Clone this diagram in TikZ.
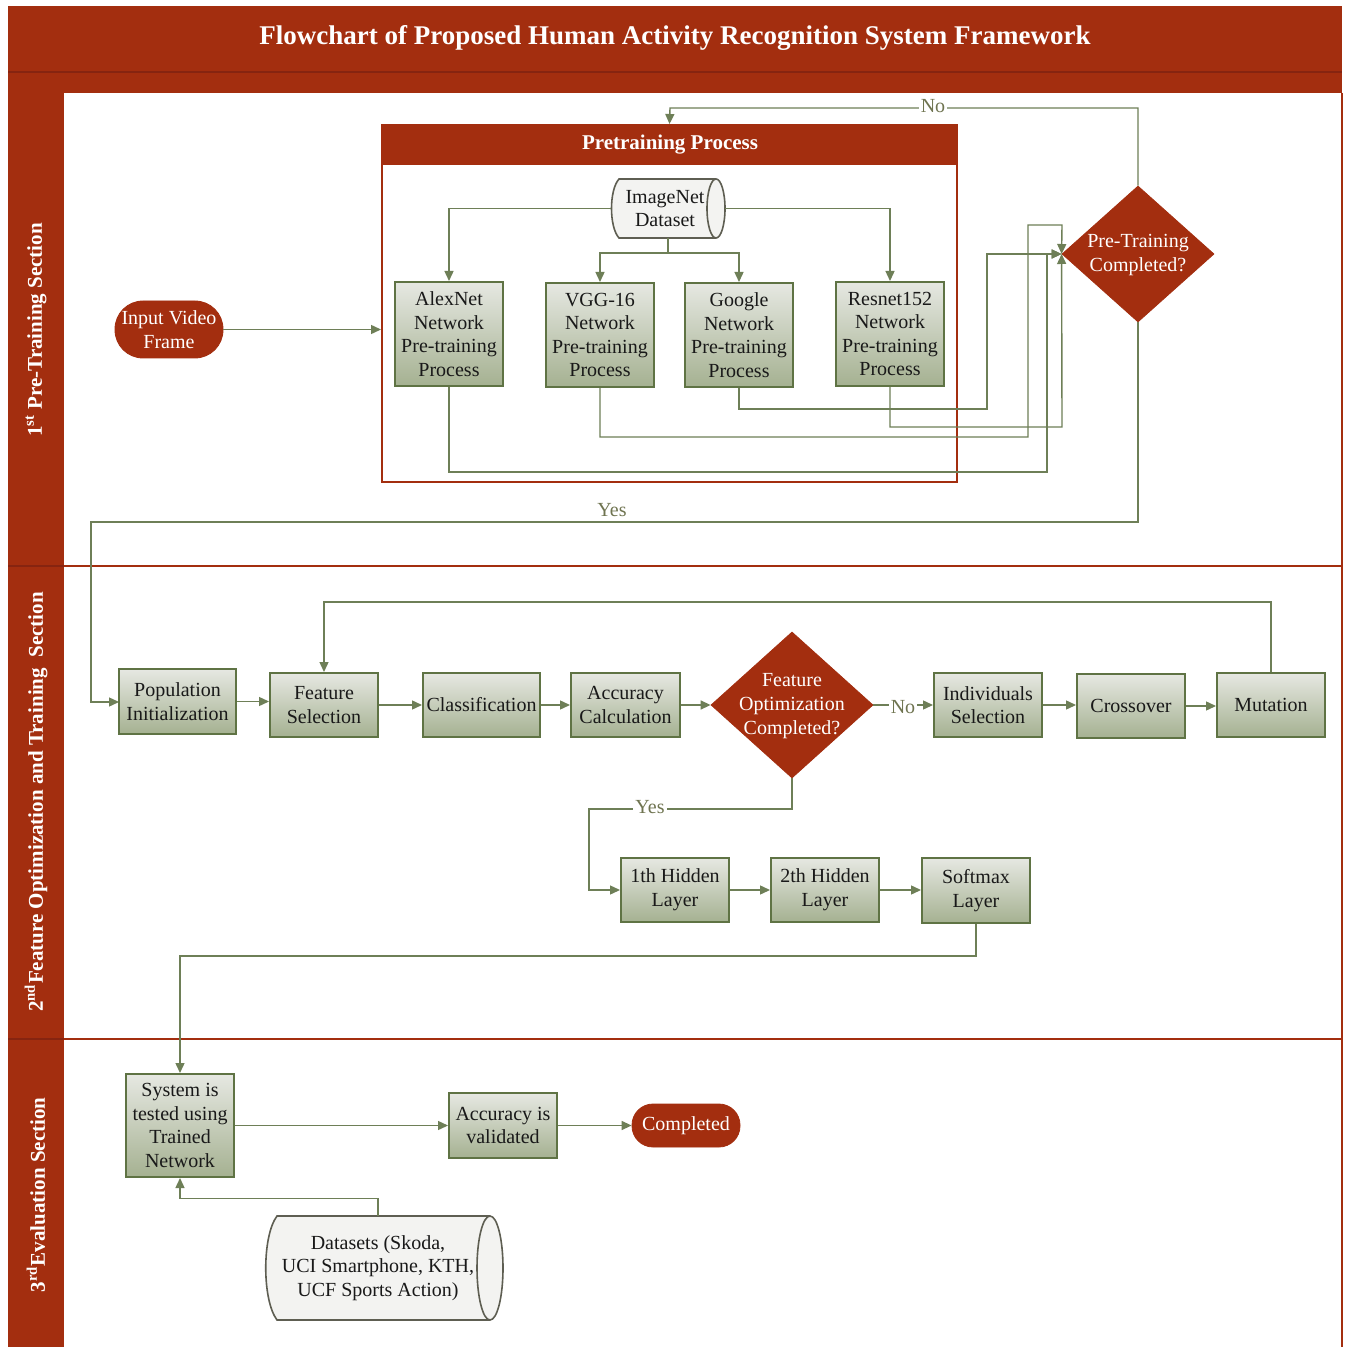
\documentclass[tikz,border=0pt]{standalone}
\usepackage{fontspec}
\setmainfont{Liberation Serif}
\usetikzlibrary{shapes.geometric,arrows.meta,fit,calc}
\definecolor{redc}{HTML}{A32E0F}
\definecolor{darkred}{HTML}{862410}
\definecolor{conn}{HTML}{6E7F57}
\definecolor{boxborder}{HTML}{5F7344}
\definecolor{boxtop}{HTML}{E6E8E2}
\definecolor{boxbot}{HTML}{A5B191}
\definecolor{cylfill}{HTML}{F3F3F1}
\definecolor{cylline}{HTML}{5E5E52}
\definecolor{lblc}{HTML}{6F7450}
\begin{document}
\begin{tikzpicture}[x=0.5pt,y=-0.5pt,
  box/.style={draw=boxborder, line width=1pt, top color=boxtop, bottom color=boxbot,
    inner sep=0pt, align=center, text=black!90, minimum width=54pt, minimum height=32pt,
    font=\fontsize{10pt}{11.8pt}\selectfont},
  tallbox/.style={box, minimum height=52pt},
  plain/.style={inner sep=0pt, align=center, text=black!90,
    font=\fontsize{10pt}{11.8pt}\selectfont},
  term/.style={fill=redc, draw=redc, inner sep=0pt, align=center, text=white,
    font=\fontsize{10pt}{11.8pt}\selectfont},
  decision/.style={diamond, fill=redc, draw=redc, inner sep=0pt, align=center, text=white,
    font=\fontsize{10pt}{11.6pt}\selectfont},
  conn/.style={draw=conn, line width=0.7pt, -{Triangle[length=5pt,width=4.5pt]}},
  lbl/.style={fill=white, inner sep=1pt, text=lblc, font=\fontsize{10pt}{11pt}\selectfont},
  lanelab/.style={rotate=90, text=white, font=\bfseries\fontsize{10.5pt}{12pt}\selectfont},
  cyl/.style={draw=cylline, line width=0.8pt, fill=cylfill}
]
\useasboundingbox (0,0) rectangle (1348,1347);
\fill[white] (0,0) rectangle (1348,1347);

% ---------- frame ----------
\fill[redc] (8,6) rectangle (1342,93);
\draw[darkred, line width=0.6pt] (8,72) -- (1342,72);
\fill[redc] (8,93) rectangle (64,1347);
\draw[redc, line width=1pt] (1342,93) -- (1342,1347);
\draw[redc, line width=1pt] (8,566) -- (1342,566);
\draw[redc, line width=1pt] (8,1039) -- (1342,1039);
\draw[darkred, line width=0.6pt] (8,566) -- (64,566) (8,1039) -- (64,1039);

\node[text=white, font=\bfseries\fontsize{13.5pt}{15pt}\selectfont] (title) at (675,38)
  {Flowchart of Proposed Human Activity Recognition System Framework};

\node[lanelab] (lane1) at (36,330) {1\textsuperscript{st} Pre-Training Section};
\node[lanelab] (lane2) at (36,802) {2\textsuperscript{nd}Feature Optimization and Training\ \ Section};
\node[lanelab] (lane3) at (36,1195) {3\textsuperscript{rd}Evaluation Section};

% ---------- lane 1 ----------
\node[fit={(382,125)(957,482)}, draw=redc, line width=1pt, inner sep=0pt] (pre) {};
\fill[redc] (382,125) rectangle (957,165);
\node[text=white, font=\bfseries\fontsize{10.5pt}{12pt}\selectfont] (pretitle) at (670,145) {Pretraining Process};

% ImageNet cylinder
\filldraw[cyl] (619,179) -- (716,179) arc[start angle=90, end angle=-90, x radius=4.5pt, y radius=14.75pt]
  -- (619,238) .. controls (609,227) and (609,190) .. (619,179) -- cycle;
\draw[cylline, line width=0.8pt] (716,179) arc[start angle=90, end angle=270, x radius=4.5pt, y radius=14.75pt];
\node[plain, fit={(611,179)(725,238)}] (img) {};
\node[plain] (imgtxt) at (665,208.5) {ImageNet\\Dataset};

\node[tallbox] (alex) at (449,334) {AlexNet\\Network\\Pre-training\\Process};
\node[tallbox] (vgg) at (600,335) {VGG-16\\Network\\Pre-training\\Process};
\node[tallbox] (goo) at (739,335) {Google\\Network\\Pre-training\\Process};
\node[tallbox] (res) at (890,334) {Resnet152\\Network\\Pre-training\\Process};

\node[term, rounded corners=14pt, fit={(115,301)(223,358)}] (inp) {};
\node[text=white, align=center, font=\fontsize{10pt}{11.8pt}\selectfont] (inptxt) at (169,329.5) {Input Video\\Frame};

\node[decision, minimum width=76pt, minimum height=68pt] (ptc) at (1138,254) {};
\node[text=white, align=center, font=\fontsize{10pt}{11.6pt}\selectfont] (ptctxt) at (1138,255) {Pre-Training\\Completed?};

\draw[conn] (img.west) -| (alex.north);
\draw[conn] (img.east) -| (res.north);
\draw[conn] (img.south) |- (600,253) -- (vgg.north);
\draw[conn] (img.south) |- (739,253) -- (goo.north);
\draw[conn] (inp.east) -- (pre.west |- inp.east);

\draw[conn] (goo.south) |- (987,409) |- (ptc.west);
\draw[conn] (res.south) |- (1062,427) -- (ptc.west);
\draw[conn] (vgg.south) |- (1028,437) |- (1062,225) -- (ptc.west);
\draw[conn] (alex.south) |- (1047,472) |- (ptc.west);

\draw[conn] (ptc.north) |- (670,108) -- (pre.north);
\node[lbl] (no1) at (933,106) {No};

\draw[conn] (ptc.south) |- (91,522) |- (119,702);
\node[lbl] (yes1) at (612,510) {Yes};

% ---------- lane 2 ----------
\node[box, minimum width=58.5pt, minimum height=32.5pt] (pop) at (177.5,701.5) {Population\\Initialization};
\node[box] (fs) at (324,705) {Feature\\Selection};
\node[box, minimum width=58.5pt] (cls) at (481.5,705) {Classification};
\node[box, minimum width=54.5pt] (acc) at (625.5,705) {Accuracy\\Calculation};
\node[decision, minimum width=81pt, minimum height=73pt] (fo) at (792,705) {};
\node[text=white, align=center, font=\fontsize{10pt}{11.8pt}\selectfont] (fotxt) at (792,706) {Feature\\Optimization\\Completed?};
\node[box] (ind) at (988,705) {Individuals\\Selection};
\node[box] (cross) at (1131,706) {Crossover};
\node[box] (mut) at (1271,705) {Mutation};

\draw[conn] (pop.east) -- (pop.east -| fs.west);
\draw[conn] (fs.east) -- (fs.east -| cls.west);
\draw[conn] (cls.east) -- (cls.east -| acc.west);
\draw[conn] (acc.east) -- (fo.west);
\draw[conn] (fo.east) -- (fo.east -| ind.west);
\node[lbl] (no2) at (903,707) {No};
\draw[conn] (ind.east) -- (ind.east -| cross.west);
\draw[conn] (cross.east) -- (cross.east -| mut.west);
\draw[conn] (mut.north) -- ++(0,-70) -| (fs.north);

\node[box] (h1) at (675,890) {1th Hidden\\Layer};
\node[box] (h2) at (825,890) {2th Hidden\\Layer};
\node[box, minimum height=32.5pt] (sm) at (976,890.5) {Softmax\\Layer};

\draw[conn] (fo.south) |- (589,809) |- (h1.west);
\node[lbl] (yes2) at (650,807) {Yes};
\draw[conn] (h1.east) -- (h1.east -| h2.west);
\draw[conn] (h2.east) -- (h2.east -| sm.west);

% ---------- lane 3 ----------
\node[box, minimum height=51.5pt] (sys) at (180,1125.5) {System is\\tested using\\Trained\\Network};
\node[box, minimum height=32.5pt] (acv) at (503,1125.5) {Accuracy is\\validated};
\node[term, rounded corners=10.5pt, fit={(632,1104)(740,1147)}] (comp) {};
\node[text=white, font=\fontsize{10pt}{11.8pt}\selectfont] (comptxt) at (686,1126) {Completed};

\draw[conn] (sm.south) -- ++(0,32) -| (sys.north);
\draw[conn] (sys.east |- acv.west) -- (acv.west);
\draw[conn] (acv.east) -- (comp.west);

% Datasets cylinder
\filldraw[cyl] (277,1216) -- (490,1216) arc[start angle=90, end angle=-90, x radius=6.5pt, y radius=26pt]
  -- (277,1320) .. controls (262,1300) and (262,1236) .. (277,1216) -- cycle;
\draw[cylline, line width=0.8pt] (490,1216) arc[start angle=90, end angle=270, x radius=6.5pt, y radius=26pt];
\node[plain, fit={(266,1216)(490,1320)}] (ds) {};
\node[plain] (dstxt) at (378,1268) {Datasets (Skoda,\\UCI Smartphone, KTH,\\UCF Sports Action)};

\draw[conn] (ds.north) -- ++(0,-17) -| (sys.south);
\end{tikzpicture}
\end{document}
